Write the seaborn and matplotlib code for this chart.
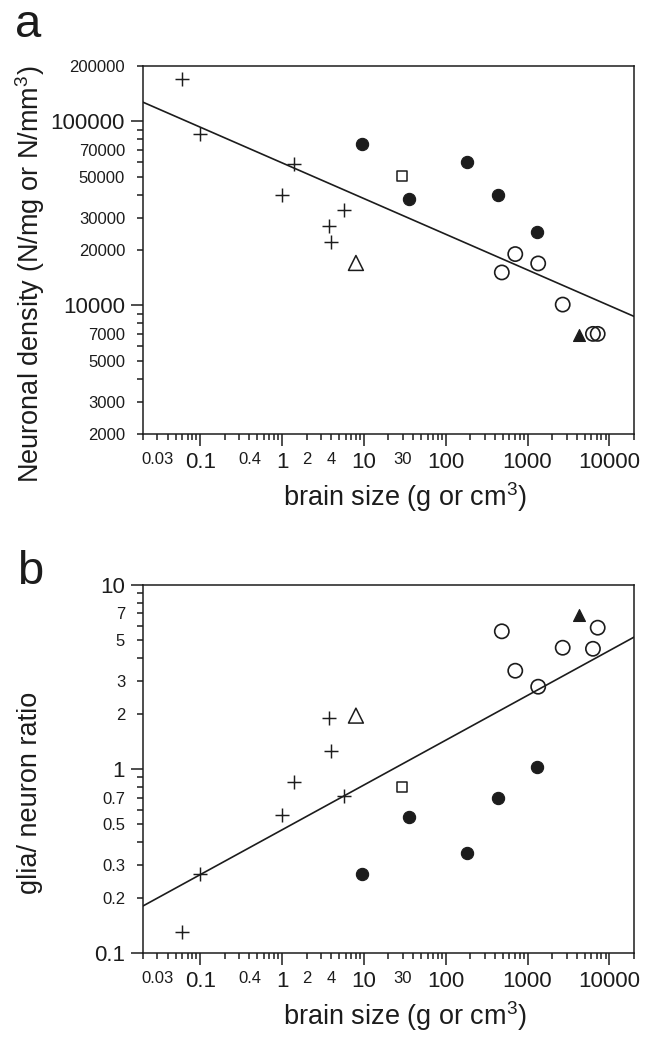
import numpy as np
import pandas as pd
import matplotlib
matplotlib.use("Agg")
import matplotlib.pyplot as plt
import seaborn as sns
from matplotlib.ticker import FixedLocator, FixedFormatter

# ---------------- data ----------------
plus_size = [0.06, 0.1, 1.0, 1.4, 3.8, 4.0, 5.7]
plus_density = [170000, 85000, 40000, 59000, 27000, 22000, 33000]
plus_ratio = [0.13, 0.27, 0.56, 0.85, 1.90, 1.26, 0.71]

otri_size = [8.0]
otri_density = [17000]
otri_ratio = [1.95]

fcirc_size = [9.5, 36, 183, 438, 1320]
fcirc_density = [75000, 38000, 60000, 40000, 25000]
fcirc_ratio = [0.27, 0.55, 0.35, 0.70, 1.03]

sq_size = [29]
sq_density = [50500]
sq_ratio = [0.80]

ocirc_size = [485, 708, 1350, 2690, 6300, 7200]
ocirc_density = [15100, 19000, 16900, 10100, 7000, 7000]
ocirc_ratio = [5.6, 3.42, 2.80, 4.56, 4.5, 5.86]

ftri_size = [4250]
ftri_density = [6900]
ftri_ratio = [6.9]

# regression lines: value at brain size 1, log-log slope
fit_density = (59500, -0.194)
fit_ratio = (0.467, 0.2435)

x_limits = (0.02, 20000)
density_limits = (2000, 200000)
ratio_limits = (0.1, 10)

x_major = [0.1, 1, 10, 100, 1000, 10000]
x_major_labels = ["0.1", "1", "10", "100", "1000", "10000"]
x_minor_labeled = {0.03: "0.03", 0.4: "0.4", 2: "2", 4: "4", 30: "30"}

density_major = [10000, 100000]
density_major_labels = ["10000", "100000"]
density_minor_labeled = {2000: "2000", 3000: "3000", 5000: "5000", 7000: "7000",
                         20000: "20000", 30000: "30000", 50000: "50000",
                         70000: "70000", 200000: "200000"}

ratio_major = [0.1, 1, 10]
ratio_major_labels = ["0.1", "1", "10"]
ratio_minor_labeled = {0.2: "0.2", 0.3: "0.3", 0.5: "0.5", 0.7: "0.7",
                       2: "2", 3: "3", 5: "5", 7: "7"}

x_label = r"brain size (g or cm$^{\mathregular{3}}$)"
density_label = r"Neuronal density (N/mg or N/mm$^{\mathregular{3}}$)"
ratio_label = "glia/ neuron ratio"

# ---------------- style ----------------
sns.set_style("ticks")
plt.rcParams['font.family'] = ['Liberation Sans', 'DejaVu Sans']
plt.rcParams['mathtext.fontset'] = 'custom'
plt.rcParams['mathtext.rm'] = 'Liberation Sans'
plt.rcParams['mathtext.it'] = 'Liberation Sans:italic'
plt.rcParams['mathtext.bf'] = 'Liberation Sans:bold'
INK = "#1c1c1c"
plt.rcParams['text.color'] = INK
plt.rcParams['axes.labelcolor'] = INK
plt.rcParams['xtick.color'] = INK
plt.rcParams['ytick.color'] = INK

groups = [
    dict(size=plus_size, density=plus_density, ratio=plus_ratio,
         marker='+', s=115, fc=INK, ec=INK, lw=1.05),
    dict(size=otri_size, density=otri_density, ratio=otri_ratio,
         marker='^', s=115, fc='none', ec=INK, lw=1.1),
    dict(size=fcirc_size, density=fcirc_density, ratio=fcirc_ratio,
         marker='o', s=78, fc=INK, ec=INK, lw=0.8),
    dict(size=sq_size, density=sq_density, ratio=sq_ratio,
         marker='s', s=52, fc='none', ec=INK, lw=1.1),
    dict(size=ocirc_size, density=ocirc_density, ratio=ocirc_ratio,
         marker='o', s=105, fc='none', ec=INK, lw=1.2),
    dict(size=ftri_size, density=ftri_density, ratio=ftri_ratio,
         marker='^', s=74, fc=INK, ec=INK, lw=0.8),
]


def log_minor(lo, hi):
    vals = []
    for e in range(int(np.floor(np.log10(lo))) - 1, int(np.ceil(np.log10(hi))) + 1):
        for k in range(2, 10):
            v = k * 10.0 ** e
            if lo * 0.999 <= v <= hi * 1.001:
                vals.append(v)
    return vals


def minor_labels(vals, labeled):
    out = []
    for v in vals:
        lab = ""
        for key, txt in labeled.items():
            if abs(v - key) / key < 1e-6:
                lab = txt
        out.append(lab)
    return out


def setup_axis(ax, ylim, ymaj, ymaj_lab, ymin_lab, ylabel):
    ax.set_xscale('log')
    ax.set_yscale('log')
    ax.set_xlim(*x_limits)
    ax.set_ylim(*ylim)
    xmin = log_minor(*x_limits)
    ymin = log_minor(*ylim)
    ax.xaxis.set_major_locator(FixedLocator(x_major))
    ax.xaxis.set_major_formatter(FixedFormatter(x_major_labels))
    ax.xaxis.set_minor_locator(FixedLocator(xmin))
    ax.xaxis.set_minor_formatter(FixedFormatter(minor_labels(xmin, x_minor_labeled)))
    ax.yaxis.set_major_locator(FixedLocator(ymaj))
    ax.yaxis.set_major_formatter(FixedFormatter(ymaj_lab))
    ax.yaxis.set_minor_locator(FixedLocator(ymin))
    ax.yaxis.set_minor_formatter(FixedFormatter(minor_labels(ymin, ymin_lab)))
    ax.tick_params(which='major', direction='out', length=8.6, width=1.1,
                   pad=4.3, labelsize=16, colors=INK)
    ax.tick_params(which='minor', direction='out', length=4.3, width=1.1,
                   pad=8.6, labelsize=12, colors=INK)
    for sp in ax.spines.values():
        sp.set_visible(True)
        sp.set_linewidth(1.1)
        sp.set_color(INK)
    ax.set_xlabel(x_label, fontsize=19.5)
    ax.xaxis.set_label_coords(0.534, -0.171)
    ax.xaxis.label.set_va('center')
    ax.set_ylabel(ylabel, fontsize=19.5)
    ax.yaxis.set_label_coords(-0.230, 0.435)
    ax.yaxis.label.set_va('center')


fig = plt.figure(figsize=(6.52, 10.42), dpi=100)
ax_a = fig.add_axes([0.2193, 0.5835, 0.7531, 0.3532])
ax_b = fig.add_axes([0.2193, 0.0854, 0.7531, 0.3532])

for ax, key, fit in [(ax_a, 'density', fit_density), (ax_b, 'ratio', fit_ratio)]:
    # regression line
    xs = np.array(x_limits, dtype=float)
    line_df = pd.DataFrame({'x': xs, 'y': fit[0] * xs ** fit[1]})
    sns.lineplot(data=line_df, x='x', y='y', ax=ax, color=INK, linewidth=1.2)
    for g in groups:
        df = pd.DataFrame({'x': g['size'], 'y': g[key]})
        kw = dict(data=df, x='x', y='y', ax=ax, marker=g['marker'], s=g['s'],
                  linewidth=g['lw'], zorder=3)
        if g['marker'] == '+':
            sns.scatterplot(color=g['ec'], **kw)
        else:
            sns.scatterplot(facecolor=g['fc'], edgecolor=g['ec'], **kw)

setup_axis(ax_a, density_limits, density_major, density_major_labels,
           density_minor_labeled, density_label)
setup_axis(ax_b, ratio_limits, ratio_major, ratio_major_labels,
           ratio_minor_labeled, ratio_label)

fig.text(15 / 652, 1 - 37 / 1042, "a", fontsize=34, va='baseline', ha='left')
fig.text(17 / 652, 1 - 584 / 1042, "b", fontsize=34, va='baseline', ha='left')

fig.savefig("out.png", dpi=100)
